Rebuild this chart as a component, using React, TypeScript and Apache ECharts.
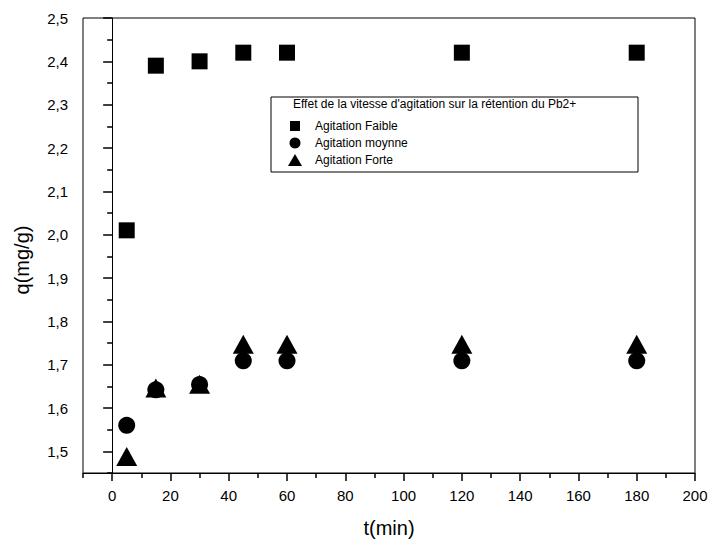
import React, { useEffect, useRef } from "react";
import * as echarts from "echarts";

const times = [5, 15, 30, 45, 60, 120, 180];
const faible = [2.01, 2.39, 2.4, 2.42, 2.42, 2.42, 2.42];
const moyenne = [1.56, 1.642, 1.654, 1.709, 1.709, 1.709, 1.709];
const forte = [1.488, 1.646, 1.655, 1.747, 1.747, 1.747, 1.747];

const seriesNames = ["Agitation Faible", "Agitation moynne", "Agitation Forte"];
const legendTitle = "Effet de la vitesse d'agitation sur la rétention du Pb2+";

const xMajorTicks = [0, 20, 40, 60, 80, 100, 120, 140, 160, 180, 200];
const xMinorTicks = [-10, 10, 30, 50, 70, 90, 110, 130, 150, 170, 190];
const yMajorTicks = [1.5, 1.6, 1.7, 1.8, 1.9, 2.0, 2.1, 2.2, 2.3, 2.4, 2.5];
const yMinorTicks = [1.45, 1.55, 1.65, 1.75, 1.85, 1.95, 2.05, 2.15, 2.25, 2.35, 2.45];

const FONT = "'Liberation Sans', Arial, sans-serif";

export default function App() {
  const ref = useRef<HTMLDivElement>(null);
  useEffect(() => {
    document.body.style.margin = "0";
    if (!ref.current) return;
    const chart = echarts.init(ref.current, undefined, { renderer: "svg" });
    const pts = (ys: number[]) => times.map((t, i) => [t, ys[i]]);
    const axisCommon = {
      axisLine: { show: true, lineStyle: { color: "#000", width: 1 } },
      splitLine: { show: false },
    };
    const legendX = 271;
    const legendY = 97;
    chart.setOption({
      animation: false,
      backgroundColor: "#fff",
      textStyle: { fontFamily: FONT, color: "#000" },
      grid: {
        left: 83,
        right: 16,
        top: 18,
        bottom: 70,
        show: true,
        borderColor: "#000",
        borderWidth: 1,
        containLabel: false,
      },
      xAxis: [
        {
          type: "value",
          min: -10,
          max: 200,
          position: "bottom",
          ...axisCommon,
          name: "t(min)",
          nameLocation: "middle",
          nameGap: 45,
          nameTextStyle: { fontFamily: FONT, fontSize: 20, color: "#000" },
          axisTick: {
            show: true,
            inside: false,
            length: 8,
            customValues: xMajorTicks,
            lineStyle: { color: "#000", width: 1.5 },
          },
          axisLabel: {
            show: true,
            margin: 15,
            customValues: xMajorTicks,
            fontFamily: FONT,
            fontSize: 15,
            color: "#000",
          },
        },
        {
          type: "value",
          min: -10,
          max: 200,
          position: "bottom",
          axisLine: { show: false },
          splitLine: { show: false },
          axisLabel: { show: false },
          axisTick: {
            show: true,
            inside: false,
            length: 5,
            customValues: xMinorTicks,
            lineStyle: { color: "#000", width: 1.5 },
          },
        },
      ],
      yAxis: [
        {
          type: "value",
          min: 1.45,
          max: 2.5,
          position: "left",
          ...axisCommon,
          axisTick: {
            show: true,
            inside: false,
            length: 9,
            customValues: yMajorTicks,
            lineStyle: { color: "#000", width: 1.5 },
          },
          axisLabel: {
            show: true,
            margin: 15,
            customValues: yMajorTicks,
            fontFamily: FONT,
            fontSize: 15,
            color: "#000",
            formatter: (v: number) => v.toFixed(1).replace(".", ","),
          },
        },
        {
          type: "value",
          min: 1.45,
          max: 2.5,
          position: "left",
          axisLine: { show: false },
          splitLine: { show: false },
          axisLabel: { show: false },
          axisTick: {
            show: true,
            inside: false,
            length: 5,
            customValues: yMinorTicks,
            lineStyle: { color: "#000", width: 1.5 },
          },
        },
      ],
      series: [
        {
          name: seriesNames[0],
          type: "scatter",
          symbol: "rect",
          symbolSize: 16,
          itemStyle: { color: "#000", opacity: 1 },
          data: pts(faible),
        },
        {
          name: seriesNames[1],
          type: "scatter",
          symbol: "circle",
          symbolSize: 17,
          itemStyle: { color: "#000", opacity: 1 },
          data: pts(moyenne),
        },
        {
          name: seriesNames[2],
          type: "scatter",
          symbol: "triangle",
          symbolSize: [21, 19],
          itemStyle: { color: "#000", opacity: 1 },
          data: pts(forte),
        },
      ],
      graphic: [
        {
          type: "text",
          x: 22,
          y: 260,
          rotation: Math.PI / 2,
          style: {
            text: "q(mg/g)",
            font: `20px ${FONT}`,
            fill: "#000",
            align: "center",
            verticalAlign: "middle",
          },
        },
        {
          type: "group",
          x: legendX,
          y: legendY,
          children: [
            {
              type: "rect",
              shape: { x: 0, y: 0, width: 367, height: 75 },
              style: { fill: "#fff", stroke: "#000", lineWidth: 1 },
            },
            {
              type: "text",
              x: 22,
              y: 7,
              style: {
                text: legendTitle,
                font: `12px ${FONT}`,
                fill: "#000",
                align: "left",
                verticalAlign: "middle",
              },
            },
            {
              type: "rect",
              shape: { x: 19, y: 24, width: 10, height: 10 },
              style: { fill: "#000" },
            },
            {
              type: "text",
              x: 44,
              y: 29,
              style: {
                text: seriesNames[0],
                font: `12px ${FONT}`,
                fill: "#000",
                align: "left",
                verticalAlign: "middle",
              },
            },
            {
              type: "circle",
              shape: { cx: 24, cy: 46, r: 5.5 },
              style: { fill: "#000" },
            },
            {
              type: "text",
              x: 44,
              y: 46,
              style: {
                text: seriesNames[1],
                font: `12px ${FONT}`,
                fill: "#000",
                align: "left",
                verticalAlign: "middle",
              },
            },
            {
              type: "polygon",
              shape: { points: [[24, 57], [31, 69], [17, 69]] },
              style: { fill: "#000" },
            },
            {
              type: "text",
              x: 44,
              y: 63,
              style: {
                text: seriesNames[2],
                font: `12px ${FONT}`,
                fill: "#000",
                align: "left",
                verticalAlign: "middle",
              },
            },
          ],
        },
      ],
    });
    return () => chart.dispose();
  }, []);
  return <div ref={ref} style={{ width: 711, height: 543 }} />;
}
